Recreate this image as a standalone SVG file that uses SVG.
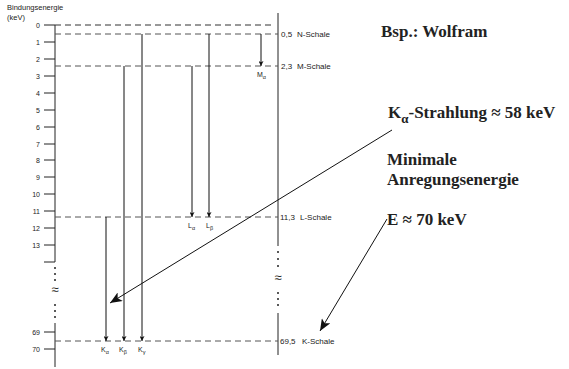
<svg xmlns="http://www.w3.org/2000/svg" width="569" height="369" viewBox="0 0 569 369">
<defs>
<marker id="sm" viewBox="0 0 8 8" refX="8" refY="4" markerWidth="5" markerHeight="5" orient="auto" markerUnits="userSpaceOnUse">
<path d="M0,0 L8,4 L0,8 L2,4 Z" fill="#111"/>
</marker>
<marker id="big" viewBox="0 0 12 10" refX="12" refY="5" markerWidth="13" markerHeight="10" orient="auto" markerUnits="userSpaceOnUse">
<path d="M0,0 L12,5 L0,10 L3,5 Z" fill="#111"/>
</marker>
<style>
.ax{stroke:#222;stroke-width:1;fill:none}
.dash{stroke:#555;stroke-width:1;stroke-dasharray:6 4;fill:none}
.tr{stroke:#111;stroke-width:1;fill:none;marker-end:url(#sm)}
.diag{stroke:#111;stroke-width:1;fill:none;marker-end:url(#big)}
.num{font-family:"Liberation Sans",Arial,sans-serif;font-size:7px;fill:#222;text-anchor:end}
.sm{font-family:"Liberation Sans",Arial,sans-serif;font-size:8px;fill:#222}
.lab{font-family:"Liberation Sans",Arial,sans-serif;font-size:7px;fill:#222}
.sub{font-size:5.5px}
.big{font-family:"Liberation Serif","Times New Roman",serif;font-size:17px;font-weight:bold;fill:#222}
.dot{fill:#222}
</style>
</defs>
<g id="axis-left">
<text class="sm" x="7" y="10" style="font-size:7.5px">Bindungsenergie</text>
<text class="sm" x="7" y="20" style="font-size:7.5px">(keV)</text>
<path class="ax" d="M55,25 V262 M55,323 V367"/>
<path class="ax" d="M44,25H55M44,42H55M44,59H55M44,76H55M44,93H55M44,110H55M44,127H55M44,144H55M44,160H55M44,177H55M44,194H55M44,211H55M44,228H55M44,245H55M44,262H55M44,332H55M44,349H55"/>
<text class="num" x="40" y="28">0</text>
<text class="num" x="40" y="45">1</text>
<text class="num" x="40" y="62">2</text>
<text class="num" x="40" y="79">3</text>
<text class="num" x="40" y="96">4</text>
<text class="num" x="40" y="113">5</text>
<text class="num" x="40" y="130">6</text>
<text class="num" x="40" y="147">7</text>
<text class="num" x="40" y="163">8</text>
<text class="num" x="40" y="180">9</text>
<text class="num" x="40" y="197">10</text>
<text class="num" x="40" y="214">11</text>
<text class="num" x="40" y="231">12</text>
<text class="num" x="40" y="248">13</text>
<text class="num" x="40" y="335">69</text>
<text class="num" x="40" y="352">70</text>
<circle class="dot" cx="55" cy="268" r="1"/>
<circle class="dot" cx="55" cy="274" r="1"/>
<circle class="dot" cx="55" cy="280" r="1"/>
<text class="sm" x="55" y="294" text-anchor="middle" style="font-size:13px">≈</text>
<circle class="dot" cx="55" cy="305" r="1"/>
<circle class="dot" cx="55" cy="311" r="1"/>
<circle class="dot" cx="55" cy="317" r="1"/>
</g>
<g id="axis-right">
<path class="ax" d="M278,13 V246 M278,313 V355"/>
<circle class="dot" cx="278" cy="252" r="1"/>
<circle class="dot" cx="278" cy="259" r="1"/>
<circle class="dot" cx="278" cy="266" r="1"/>
<text class="sm" x="278" y="282" text-anchor="middle" style="font-size:13px">≈</text>
<circle class="dot" cx="278" cy="293" r="1"/>
<circle class="dot" cx="278" cy="299" r="1"/>
<circle class="dot" cx="278" cy="305" r="1"/>
</g>
<g id="levels">
<path class="dash" d="M55,25H274" style="stroke:#333"/>
<path class="dash" d="M55,34H278"/>
<path class="dash" d="M55,66H278"/>
<path class="dash" d="M55,217H278"/>
<path class="dash" d="M55,341H278"/>
</g>
<g id="level-labels">
<text class="sm" x="281" y="37">0,5</text><text class="sm" x="297" y="37">N-Schale</text>
<text class="sm" x="281" y="69">2,3</text><text class="sm" x="297" y="69">M-Schale</text>
<text class="sm" x="280" y="220">11,3</text><text class="sm" x="300" y="220">L-Schale</text>
<text class="sm" x="280" y="344">69,5</text><text class="sm" x="302" y="344">K-Schale</text>
</g>
<g id="connectors">
<path class="tr" d="M261,34V66"/>
<path class="tr" d="M209,34V217"/>
<path class="tr" d="M192,66V217"/>
<path class="tr" d="M106,217V341"/>
<path class="tr" d="M124,66V341"/>
<path class="tr" d="M142,34V341"/>
<path class="diag" d="M392,130L110,303"/>
<path class="diag" d="M387,219L320,331"/>
</g>
<g id="transition-labels">
<text class="lab" x="257" y="77">M<tspan class="sub" dy="1.5">α</tspan></text>
<text class="lab" x="188" y="228">L<tspan class="sub" dy="1.5">α</tspan></text>
<text class="lab" x="206" y="228">L<tspan class="sub" dy="1.5">β</tspan></text>
<text class="lab" x="101" y="352">K<tspan class="sub" dy="1.5">α</tspan></text>
<text class="lab" x="119" y="352">K<tspan class="sub" dy="1.5">β</tspan></text>
<text class="lab" x="138" y="352">K<tspan class="sub" dy="1.5">γ</tspan></text>
</g>
<g id="notes">
<text class="big" x="381" y="37">Bsp.: Wolfram</text>
<text class="big" x="388" y="118">K<tspan style="font-size:13px" dy="5">α</tspan><tspan dy="-5">-Strahlung ≈ 58 keV</tspan></text>
<text class="big" x="387" y="165">Minimale</text>
<text class="big" x="387" y="185">Anregungsenergie</text>
<text class="big" x="387" y="225">E ≈ 70 keV</text>
</g>
</svg>
